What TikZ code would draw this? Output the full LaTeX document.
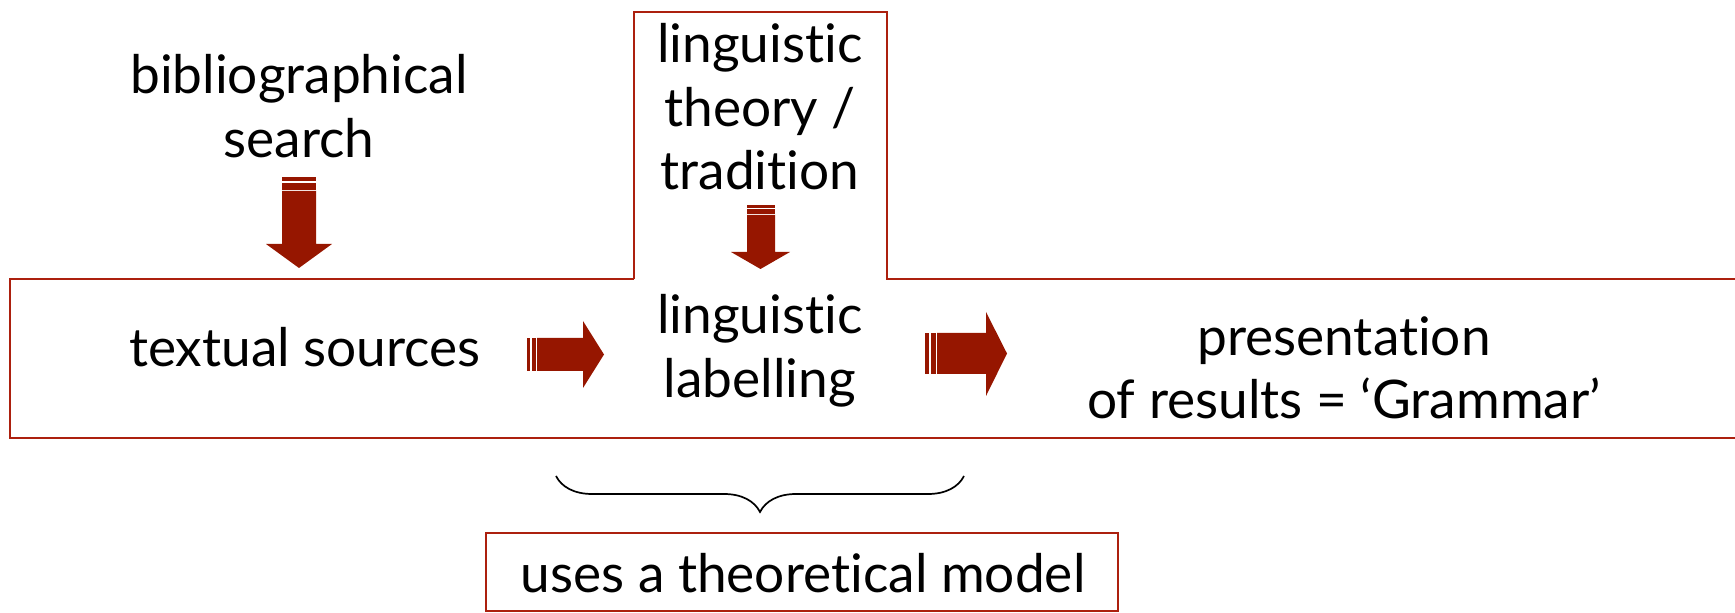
\documentclass[tikz,border=0pt]{standalone}
\usepackage{fontspec}
\setmainfont{Lato}[Ligatures={NoCommon}]
\usetikzlibrary{decorations.pathreplacing}
\definecolor{arrowred}{RGB}{150,22,0}
\definecolor{boxred}{RGB}{172,32,14}
\tikzset{
  lbl/.style={inner sep=0pt, align=center, font=\fontsize{26.6pt}{31.8pt}\selectfont},
  frame/.style={draw=boxred, line width=1.1pt},
  blk/.style={fill=arrowred, draw=none},
}
\begin{document}
\begin{tikzpicture}[x=0.5pt,y=-0.5pt]
\useasboundingbox (0,0) rectangle (1735,613);
% outline of the central box shape
\draw[frame] (634,279) -- (634,12) -- (887,12) -- (887,279) -- (1740,279);
\draw[frame] (634,279) -- (10,279) -- (10,438) -- (1740,438);
% bottom box
\draw[frame] (486,533) rectangle (1118,611);

% texts
\node[lbl] (bib) at (299,106) {bibliographical\\search};
\node[lbl] (theory) at (760,107) {linguistic\\theory /\\tradition};
\node[lbl] (src) at (305,347) {textual sources};
\node[lbl] (label) at (760,351) {linguistic\\labelling};
\node[lbl] (pres) at (1344,368) {presentation\\of results = ‘Grammar’};
\node[lbl] (model) at (803,573) {uses a theoretical model};

% down arrow 1
\fill[blk] (282,177) rectangle (316,181);
\fill[blk] (282,183) rectangle (316,190);
\fill[blk] (282,191) -- (316,191) -- (316,244) -- (332,244) -- (299,268) -- (266,244) -- (282,244) -- cycle;
% down arrow 2
\fill[blk] (747,205) rectangle (775,208);
\fill[blk] (747,209.5) rectangle (775,214);
\fill[blk] (747,215) -- (775,215) -- (775,252) -- (790,252) -- (760.5,269) -- (731,252) -- (747,252) -- cycle;
% right arrow 1
\fill[blk] (527,338) rectangle (530,371);
\fill[blk] (531.5,338) rectangle (536,371);
\fill[blk] (537,338) -- (583,338) -- (583,321) -- (604,354.5) -- (583,388) -- (583,371) -- (537,371) -- cycle;
% right arrow 2
\fill[blk] (925,333) rectangle (929,374);
\fill[blk] (930.5,333) rectangle (936,374);
\fill[blk] (937,333) -- (986,333) -- (986,312) -- (1007,353.5) -- (986,396) -- (986,374) -- (937,374) -- cycle;

% brace
\coordinate (bl) at (556,476);
\coordinate (br) at (964,476);
\draw[line width=0.85pt, decorate, decoration={brace, mirror, amplitude=18pt}] (bl) -- (br);
\end{tikzpicture}
\end{document}
